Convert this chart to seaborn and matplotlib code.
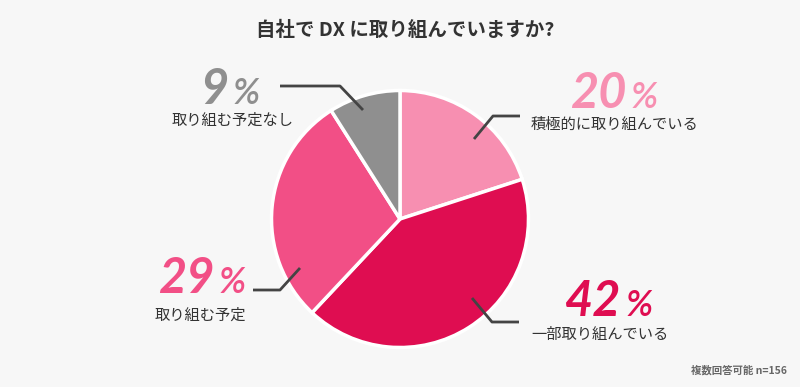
import matplotlib
matplotlib.use("Agg")
import matplotlib.pyplot as plt
import seaborn as sns

# data
labels = ["積極的に取り組んでいる", "一部取り組んでいる", "取り組む予定", "取り組む予定なし"]
values = [20, 42, 29, 9]
colors = ["#f78fb1", "#df0d51", "#f24f86", "#8f8f8f"]

title = "自社で DX に取り組んでいますか?"
note = "複数回答可能 n=156"

sns.set_style("white")
plt.rcParams["font.family"] = ["Noto Sans CJK JP", "DejaVu Sans"]

W, H = 800, 387
bg = "#f7f7f7"
fig = plt.figure(figsize=(W / 100, H / 100), dpi=100, facecolor=bg)
ax = fig.add_axes([0, 0, 1, 1])
ax.set_facecolor(bg)


def py(y):
    # pixel y (from top) -> data y
    return H - y


ax.pie(values, colors=colors, startangle=90, counterclock=False,
       center=(400, py(219)), radius=128.5,
       wedgeprops=dict(edgecolor="white", linewidth=2.5))
ax.set_xlim(0, W)
ax.set_ylim(0, H)
ax.set_aspect("auto")
ax.axis("off")

# leader lines (pixel coords, from slice outward)
leaders = [
    [(474, 139), (493, 116), (520, 116)],
    [(472, 298), (492, 322), (519, 322)],
    [(300, 268), (280, 290), (253, 290)],
    [(363, 110), (340, 86), (280, 86)],
]
for pts in leaders:
    ax.plot([p[0] for p in pts], [py(p[1]) for p in pts],
            color="#444444", lw=2, solid_capstyle="butt")

# percent numbers and labels
num_pos = [(570, 108), (565, 316), (158, 293), (200, 104)]
lab_pos = [(531, 124), (531, 334), (155, 315), (172, 120)]
fig.canvas.draw()
renderer = fig.canvas.get_renderer()
for v, lab, c, (nx, ny), (lx, ly) in zip(values, labels, colors, num_pos, lab_pos):
    t = ax.text(nx, py(ny), str(v), fontsize=35, fontfamily="Lato",
                fontstyle="italic", fontweight="bold", color=c,
                ha="left", va="baseline")
    bb = t.get_window_extent(renderer)
    ax.text(bb.x1 + 4, py(ny), "%", fontsize=26, fontfamily="Lato",
            fontstyle="italic", fontweight="semibold", color=c,
            ha="left", va="baseline")
    ax.text(lx, py(ly), lab, fontsize=11, color="#333333",
            ha="left", va="center")

ax.text(405, py(30), title, fontsize=14, fontweight="bold", color="#333333",
        ha="center", va="center")
ax.text(787, py(370), note, fontsize=7.5, fontweight="bold", color="#666666",
        ha="right", va="center")

fig.savefig("out.png", dpi=100, facecolor=bg)
